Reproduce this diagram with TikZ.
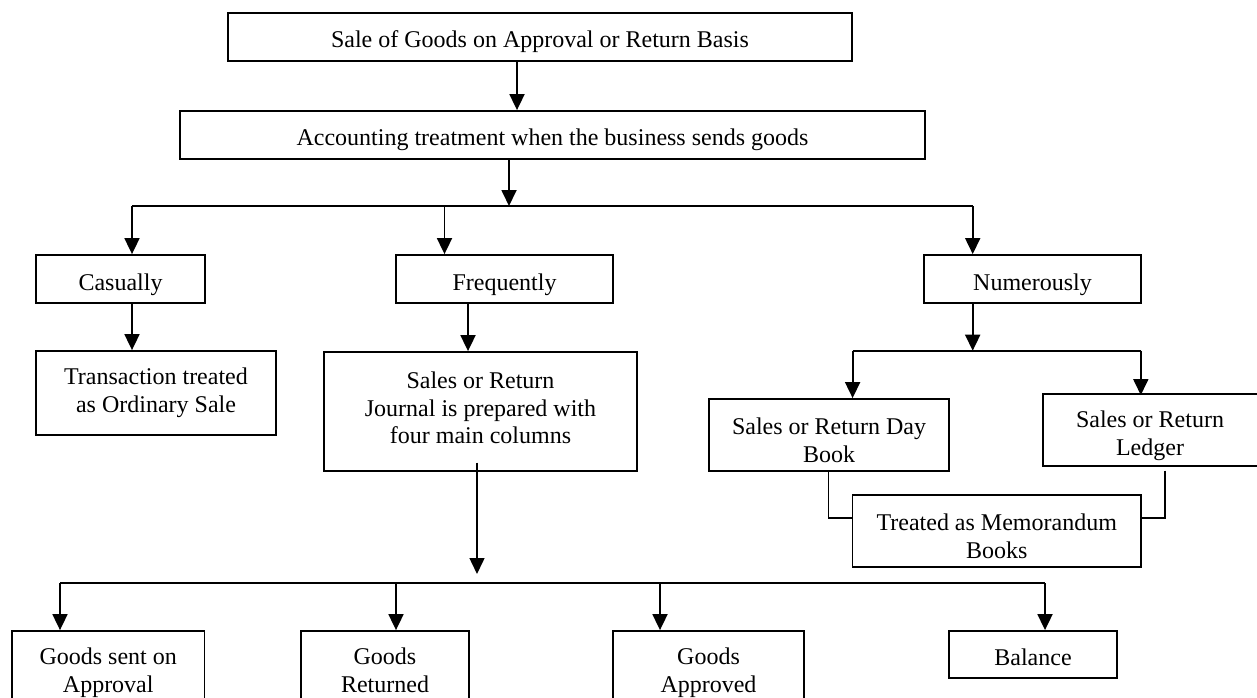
\documentclass[tikz,border=0pt]{standalone}
\usepackage{fontspec}
\setmainfont{Liberation Serif}
\usetikzlibrary{arrows.meta,calc}
\begin{document}
\begin{tikzpicture}[x=1pt,y=-1pt,
  box/.style={draw, line width=1.8pt, inner sep=0pt, align=center, font=\fontsize{24}{27.6}\selectfont},
  one/.style={text height=22pt, text depth=0pt},
  txt/.style={inner sep=0pt, align=center, font=\fontsize{24}{27.6}\selectfont},
  ln/.style={line width=1.8pt},
  arr/.style={line width=1.8pt, -{Triangle[length=16pt,width=15pt]}}]
\useasboundingbox (0,0) rectangle (1257,698);
\clip (0,0) rectangle (1257,698);
% boxes
\node[box, one, minimum width=624pt, minimum height=48pt] (top) at (540,37) {Sale of Goods on Approval or Return Basis};
\node[box, one, minimum width=745pt, minimum height=48pt] (acc) at (552.5,135) {Accounting treatment when the business sends goods};
\node[box, one, minimum width=169pt, minimum height=48pt] (cas) at (120.5,279) {Casually};
\node[box, one, minimum width=217pt, minimum height=48pt] (freq) at (504.5,279) {Frequently};
\node[box, one, minimum width=217pt, minimum height=48pt] (num) at (1032.5,279) {Numerously};
\node[box, minimum width=240pt, minimum height=84pt] (trans) at (156,393) {};
\node[txt] (transt) at (156,393) {Transaction treated\\as Ordinary Sale};
\node[box, minimum width=313pt, minimum height=119pt] (jour) at (480.5,411.5) {};
\node[txt] (jourt) at (480.5,408) {Sales or Return\\Journal is prepared with\\four main columns};
\node[box, minimum width=240pt, minimum height=72pt] (day) at (829,435) {};
\node[txt] (dayt) at (829,440.5) {Sales or Return Day\\Book};
\node[box, minimum width=215pt, minimum height=72pt] (led) at (1150.5,430) {};
\node[txt] (ledt) at (1150,435.5) {Sales or Return\\Ledger};
\node[box, minimum width=288.5pt, minimum height=72pt] (memo) at (996.75,531) {};
\node[txt] (memot) at (996.75,536.5) {Treated as Memorandum\\Books};
\node[box, minimum width=192.5pt, minimum height=80pt] (sent) at (108.25,671) {};
\node[txt] (sentt) at (108.25,673) {Goods sent on\\Approval};
\node[box, minimum width=168pt, minimum height=80pt] (ret) at (385,671) {};
\node[txt] (rett) at (385,673) {Goods\\Returned\vphantom{p}};
\node[box, minimum width=191pt, minimum height=80pt] (app) at (708.5,671) {};
\node[txt] (appt) at (708.5,673) {Goods\\Approved};
\node[box, one, minimum width=168pt, minimum height=47pt] (bal) at (1033,654.5) {Balance};
% coordinates
\coordinate (a1) at (517,0);
\coordinate (a2) at (509,206);
\coordinate (b1) at (132,206);
\coordinate (b2) at (444.5,206);
\coordinate (b3) at (972.7,206);
\coordinate (c1) at (468,0);
\coordinate (n2) at (972.7,350.7);
\coordinate (n2l) at (852.6,350.7);
\coordinate (n2r) at (1140.8,350.7);
\coordinate (m1) at (828.4,518.3);
\coordinate (m2) at (1164.7,518.3);
\coordinate (m2s) at (1164.7,470.7);
\coordinate (j1) at (477,462.7);
\coordinate (j2) at (477,574);
\coordinate (r1) at (60,583);
\coordinate (r2) at (396,583);
\coordinate (r3) at (660,583);
\coordinate (r4) at (1045,583);
% connectors
\draw[arr] (a1 |- top.south) -- (a1 |- acc.north);
\draw[arr] (a2 |- acc.south) -- (a2);
\draw[ln] (b1) -- (b3);
\draw[arr] (b1) -- (b1 |- cas.north);
\draw[arr] (b2) -- (b2 |- freq.north);
\draw[arr] (b3) -- (b3 |- num.north);
\draw[arr] (b1 |- cas.south) -- (b1 |- trans.north);
\draw[arr] (c1 |- freq.south) -- (c1 |- jour.north);
\draw[arr] (n2 |- num.south) -- (n2);
\draw[ln] (n2l) -- (n2r);
\draw[arr] (n2l) -- (n2l |- day.north);
\draw[arr] (n2r) -- ([yshift=-2pt]n2r |- led.north);
\draw[ln] (m1 |- day.south) -- (m1) -- (m1 -| memo.west);
\draw[ln] (m2s) -- (m2) -- (m2 -| memo.east);
\draw[arr, line width=1.5pt] (j1) -- (j2);
\draw[ln] (r1) -- (r4);
\draw[arr] (r1) -- (r1 |- sent.north);
\draw[arr] (r2) -- (r2 |- ret.north);
\draw[arr] (r3) -- (r3 |- app.north);
\draw[arr] (r4) -- (r4 |- bal.north);
\end{tikzpicture}
\end{document}
